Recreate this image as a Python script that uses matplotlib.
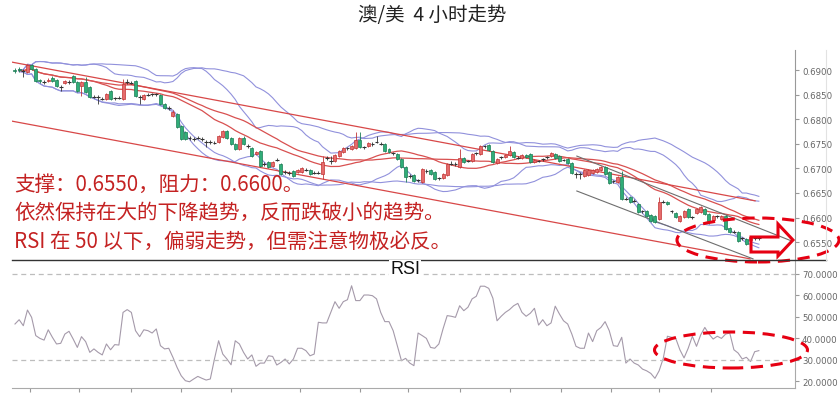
import matplotlib
matplotlib.use("Agg")
import matplotlib.pyplot as plt
import numpy as np
import pandas as pd
from matplotlib.patches import Ellipse, Polygon
from matplotlib.lines import Line2D

# --- données : bougies 4h AUD/USD ---
open_ = [
    0.6900, 0.6902, 0.6898, 0.6896, 0.6910, 0.6902, 0.6880, 0.6876, 0.6878, 0.6884,
    0.6880, 0.6867, 0.6874, 0.6876, 0.6888, 0.6876, 0.6867, 0.6876, 0.6865, 0.6847,
    0.6845, 0.6843, 0.6841, 0.6857, 0.6843, 0.6845, 0.6841, 0.6876, 0.6874, 0.6878,
    0.6845, 0.6841, 0.6851, 0.6851, 0.6850, 0.6849, 0.6831, 0.6823, 0.6806, 0.6811,
    0.6786, 0.6774, 0.6762, 0.6760, 0.6762, 0.6760, 0.6754, 0.6754, 0.6752, 0.6754,
    0.6764, 0.6776, 0.6762, 0.6750, 0.6739, 0.6762, 0.6745, 0.6741, 0.6729, 0.6735,
    0.6709, 0.6713, 0.6705, 0.6719, 0.6709, 0.6693, 0.6691, 0.6695, 0.6693, 0.6693,
    0.6697, 0.6697, 0.6691, 0.6691, 0.6689, 0.6721, 0.6717, 0.6715, 0.6725, 0.6733,
    0.6741, 0.6739, 0.6741, 0.6758, 0.6743, 0.6745, 0.6750, 0.6754, 0.6750, 0.6750,
    0.6739, 0.6731, 0.6729, 0.6719, 0.6703, 0.6685, 0.6687, 0.6676, 0.6672, 0.6695,
    0.6697, 0.6693, 0.6680, 0.6680, 0.6687, 0.6709, 0.6709, 0.6703, 0.6721, 0.6715,
    0.6715, 0.6731, 0.6729, 0.6745, 0.6748, 0.6735, 0.6711, 0.6723, 0.6723, 0.6727,
    0.6733, 0.6723, 0.6721, 0.6727, 0.6729, 0.6713, 0.6715, 0.6719, 0.6723, 0.6725,
    0.6729, 0.6725, 0.6717, 0.6719, 0.6711, 0.6689, 0.6689, 0.6685, 0.6687, 0.6691,
    0.6693, 0.6697, 0.6703, 0.6693, 0.6674, 0.6672, 0.6682, 0.6638, 0.6642, 0.6634,
    0.6628, 0.6613, 0.6613, 0.6605, 0.6603, 0.6597, 0.6632, 0.6632, 0.6613, 0.6609,
    0.6593, 0.6601, 0.6617, 0.6601, 0.6609, 0.6611, 0.6617, 0.6607, 0.6595, 0.6603,
    0.6597, 0.6603, 0.6579, 0.6571, 0.6571, 0.6558, 0.6556, 0.6554, 0.6558, 0.6558,
]
close = [
    0.6898, 0.6900, 0.6897, 0.6910, 0.6902, 0.6878, 0.6878, 0.6875, 0.6880, 0.6878,
    0.6867, 0.6866, 0.6878, 0.6876, 0.6876, 0.6857, 0.6876, 0.6855, 0.6845, 0.6846,
    0.6845, 0.6842, 0.6851, 0.6841, 0.6843, 0.6844, 0.6872, 0.6875, 0.6874, 0.6847,
    0.6845, 0.6849, 0.6850, 0.6851, 0.6851, 0.6831, 0.6823, 0.6822, 0.6815, 0.6784,
    0.6760, 0.6760, 0.6761, 0.6759, 0.6762, 0.6759, 0.6754, 0.6753, 0.6752, 0.6766,
    0.6776, 0.6762, 0.6750, 0.6739, 0.6762, 0.6750, 0.6745, 0.6725, 0.6733, 0.6705,
    0.6708, 0.6703, 0.6713, 0.6718, 0.6689, 0.6692, 0.6690, 0.6685, 0.6697, 0.6701,
    0.6697, 0.6689, 0.6690, 0.6691, 0.6713, 0.6721, 0.6716, 0.6727, 0.6735, 0.6741,
    0.6741, 0.6745, 0.6758, 0.6743, 0.6743, 0.6752, 0.6749, 0.6754, 0.6750, 0.6735,
    0.6733, 0.6731, 0.6719, 0.6703, 0.6682, 0.6684, 0.6674, 0.6676, 0.6699, 0.6694,
    0.6689, 0.6678, 0.6680, 0.6689, 0.6709, 0.6709, 0.6708, 0.6721, 0.6713, 0.6715,
    0.6729, 0.6731, 0.6745, 0.6745, 0.6737, 0.6713, 0.6719, 0.6723, 0.6727, 0.6735,
    0.6723, 0.6722, 0.6727, 0.6723, 0.6713, 0.6717, 0.6715, 0.6719, 0.6723, 0.6731,
    0.6721, 0.6715, 0.6717, 0.6711, 0.6691, 0.6689, 0.6688, 0.6697, 0.6697, 0.6697,
    0.6699, 0.6703, 0.6689, 0.6670, 0.6674, 0.6682, 0.6638, 0.6638, 0.6632, 0.6634,
    0.6611, 0.6613, 0.6603, 0.6593, 0.6591, 0.6632, 0.6632, 0.6628, 0.6613, 0.6601,
    0.6603, 0.6613, 0.6601, 0.6601, 0.6617, 0.6621, 0.6607, 0.6593, 0.6603, 0.6603,
    0.6603, 0.6577, 0.6571, 0.6571, 0.6552, 0.6558, 0.6546, 0.6561, 0.6558, 0.6559,
]
high = [
    0.6904, 0.6906, 0.6902, 0.6912, 0.6912, 0.6904, 0.6882, 0.6880, 0.6884, 0.6888,
    0.6882, 0.6870, 0.6880, 0.6880, 0.6889, 0.6878, 0.6878, 0.6886, 0.6867, 0.6850,
    0.6849, 0.6846, 0.6853, 0.6859, 0.6846, 0.6848, 0.6882, 0.6882, 0.6877, 0.6880,
    0.6849, 0.6851, 0.6854, 0.6854, 0.6853, 0.6851, 0.6833, 0.6826, 0.6819, 0.6813,
    0.6788, 0.6776, 0.6765, 0.6763, 0.6765, 0.6763, 0.6758, 0.6757, 0.6755, 0.6768,
    0.6778, 0.6778, 0.6764, 0.6752, 0.6764, 0.6766, 0.6749, 0.6743, 0.6735, 0.6737,
    0.6712, 0.6715, 0.6715, 0.6722, 0.6711, 0.6696, 0.6694, 0.6697, 0.6699, 0.6703,
    0.6700, 0.6699, 0.6694, 0.6694, 0.6725, 0.6725, 0.6725, 0.6729, 0.6737, 0.6743,
    0.6744, 0.6747, 0.6774, 0.6774, 0.6746, 0.6754, 0.6753, 0.6766, 0.6753, 0.6752,
    0.6741, 0.6734, 0.6731, 0.6721, 0.6705, 0.6688, 0.6689, 0.6679, 0.6701, 0.6698,
    0.6699, 0.6695, 0.6683, 0.6691, 0.6711, 0.6715, 0.6712, 0.6739, 0.6723, 0.6718,
    0.6731, 0.6734, 0.6747, 0.6748, 0.6750, 0.6737, 0.6721, 0.6726, 0.6729, 0.6745,
    0.6735, 0.6726, 0.6729, 0.6729, 0.6731, 0.6719, 0.6718, 0.6722, 0.6726, 0.6733,
    0.6731, 0.6727, 0.6720, 0.6721, 0.6713, 0.6692, 0.6692, 0.6699, 0.6699, 0.6699,
    0.6701, 0.6705, 0.6705, 0.6695, 0.6677, 0.6684, 0.6695, 0.6641, 0.6644, 0.6637,
    0.6630, 0.6616, 0.6615, 0.6607, 0.6605, 0.6642, 0.6635, 0.6634, 0.6616, 0.6611,
    0.6605, 0.6615, 0.6619, 0.6604, 0.6619, 0.6623, 0.6619, 0.6609, 0.6605, 0.6606,
    0.6605, 0.6605, 0.6581, 0.6574, 0.6573, 0.6561, 0.6558, 0.6563, 0.6561, 0.6562,
]
low = [
    0.6894, 0.6896, 0.6886, 0.6894, 0.6900, 0.6876, 0.6874, 0.6872, 0.6876, 0.6876,
    0.6865, 0.6857, 0.6872, 0.6872, 0.6874, 0.6855, 0.6847, 0.6853, 0.6843, 0.6843,
    0.6831, 0.6839, 0.6839, 0.6839, 0.6840, 0.6842, 0.6839, 0.6872, 0.6871, 0.6845,
    0.6831, 0.6839, 0.6847, 0.6848, 0.6847, 0.6829, 0.6821, 0.6819, 0.6804, 0.6782,
    0.6758, 0.6758, 0.6758, 0.6756, 0.6759, 0.6756, 0.6743, 0.6750, 0.6749, 0.6752,
    0.6762, 0.6760, 0.6748, 0.6737, 0.6737, 0.6748, 0.6742, 0.6723, 0.6727, 0.6703,
    0.6705, 0.6701, 0.6703, 0.6715, 0.6687, 0.6689, 0.6687, 0.6683, 0.6691, 0.6691,
    0.6694, 0.6687, 0.6688, 0.6688, 0.6678, 0.6718, 0.6709, 0.6713, 0.6723, 0.6731,
    0.6738, 0.6737, 0.6739, 0.6741, 0.6740, 0.6743, 0.6746, 0.6751, 0.6747, 0.6733,
    0.6731, 0.6728, 0.6717, 0.6701, 0.6672, 0.6681, 0.6672, 0.6673, 0.6670, 0.6691,
    0.6687, 0.6676, 0.6677, 0.6678, 0.6685, 0.6706, 0.6705, 0.6701, 0.6711, 0.6712,
    0.6713, 0.6728, 0.6727, 0.6742, 0.6735, 0.6711, 0.6709, 0.6720, 0.6721, 0.6725,
    0.6721, 0.6719, 0.6719, 0.6721, 0.6711, 0.6711, 0.6712, 0.6716, 0.6720, 0.6723,
    0.6719, 0.6713, 0.6714, 0.6709, 0.6689, 0.6680, 0.6678, 0.6683, 0.6685, 0.6689,
    0.6691, 0.6695, 0.6687, 0.6668, 0.6671, 0.6670, 0.6636, 0.6635, 0.6630, 0.6631,
    0.6609, 0.6610, 0.6601, 0.6591, 0.6589, 0.6595, 0.6629, 0.6626, 0.6610, 0.6599,
    0.6591, 0.6599, 0.6599, 0.6598, 0.6607, 0.6609, 0.6605, 0.6587, 0.6593, 0.6600,
    0.6595, 0.6575, 0.6569, 0.6568, 0.6550, 0.6555, 0.6544, 0.6552, 0.6555, 0.6555,
]
rsi = [
    46.7, 48.7, 45.9, 53.2, 49.8, 41.3, 40.0, 39.2, 44.0, 40.5,
    37.4, 37.7, 42.0, 43.3, 39.7, 35.8, 40.8, 38.5, 33.5, 35.1,
    33.5, 32.3, 37.4, 34.7, 37.1, 36.9, 52.1, 53.4, 52.1, 43.6,
    40.8, 44.0, 43.6, 42.5, 44.4, 36.6, 35.1, 35.4, 31.2, 26.5,
    22.6, 20.3, 19.8, 21.1, 22.3, 21.4, 20.6, 21.1, 30.4,
    38.9, 32.7, 30.4, 27.7, 38.9, 37.4, 33.5, 30.4, 32.3, 27.0,
    28.5, 28.5, 31.9, 31.6, 27.6, 28.8, 30.4, 28.1, 30.4, 35.4,
    35.4, 34.3, 31.9, 32.7, 47.5, 47.2, 47.2, 52.1, 57.1, 54.0,
    57.1, 58.0, 64.5, 57.6, 57.6, 60.2, 60.2, 59.9, 58.4, 52.1,
    47.8, 47.8, 43.6, 36.6, 29.6, 30.7, 28.5, 27.3,
    42.5, 41.3, 40.0, 35.8, 35.4, 37.4, 44.4, 50.6, 50.3, 49.8,
    55.2, 52.9, 54.5, 58.4, 59.6, 64.3, 64.3, 63.3, 58.7, 48.2,
    50.3, 52.1, 53.4, 55.2, 56.3, 52.1, 50.3, 51.7, 54.0, 46.2,
    48.7, 45.9, 47.2, 55.0, 51.4, 48.2, 46.7, 42.0, 36.3, 35.4,
    35.4, 42.5, 38.5, 43.6, 45.1, 47.8, 43.6, 36.6, 36.3, 40.5,
    28.5, 30.4, 28.5, 27.6, 25.7, 24.9, 23.7, 21.4, 24.9, 30.7,
    41.0, 40.5, 40.0, 34.7, 30.9, 35.4, 41.0, 36.3, 41.6, 45.1,
    42.0, 39.7, 41.0, 40.0, 42.0, 42.5, 34.7, 33.2, 30.4, 31.2,
    29.2, 33.8, 34.3,
]

price_ticks = [0.6550, 0.6600, 0.6650, 0.6700, 0.6750, 0.6800, 0.6850, 0.6900]
rsi_ticks = [20, 30, 40, 50, 60, 70]
day_ticks = [3.5, 15.5, 28, 40, 52, 68.5, 83, 94.5, 107, 119, 131.5, 143.5, 155, 167.5]
bb_periods = [20, 30]

# lignes de tendance (indice bougie, prix)
channel_top = ([-0.7, 178.1], [0.6916, 0.6634])
channel_bottom = ([-0.7, 176.9], [0.6796, 0.6516])
wedge_top = ([135.2, 187.0], [0.6725, 0.6552])
wedge_bottom = ([135.2, 177.6], [0.6654, 0.6516])

title = "澳/美  4 小时走势"
notes = [
    "支撑：0.6550，阻力：0.6600。",
    "依然保持在大的下降趋势，反而跌破小的趋势。",
    "RSI 在 50 以下，偏弱走势，但需注意物极必反。",
]

W, H = 840, 402
def fx(px):
    return px / W
def fy(py):
    return 1 - py / H

fig = plt.figure(figsize=(W / 100, H / 100), dpi=100)
ax = fig.add_axes([fx(12), fy(261), fx(795) - fx(12), fy(51) - fy(261)])
ax2 = fig.add_axes([fx(12), fy(389), fx(795) - fx(12), fy(261) - fy(389)], sharex=ax)

o = np.array(open_)
c = np.array(close)
hi = np.array(high)
lo = np.array(low)
idx = np.arange(len(c))

up = (c - o) >= 0.00015
down = (o - c) >= 0.00015
doji = ~(up | down)

RED, RED_E = "#e56b6b", "#c23535"
GRN, GRN_E = "#30ad78", "#1c7d55"

# --- Bollinger (2 écarts-types) ---
s = pd.Series(c)
for n in bb_periods:
    mid = s.rolling(n, min_periods=2).mean()
    sd = s.rolling(n, min_periods=2).std(ddof=0)
    ax.plot(idx, mid + 2 * sd, color="#9191dc", lw=0.8, zorder=1)
    ax.plot(idx, mid - 2 * sd, color="#9191dc", lw=0.8, zorder=1)
    ax.plot(idx, mid, color="#d85050", lw=0.9, zorder=1)

# canaux
for xs, ys in (channel_top, channel_bottom):
    ax.plot(xs, ys, color="#d84848", lw=0.9, zorder=1)
for xs, ys in (wedge_top, wedge_bottom):
    ax.plot(xs, ys, color="#6e6e6e", lw=0.8, zorder=1)

# --- bougies ---
wick_col = np.where(up, RED_E, np.where(down, GRN_E, "#333333"))
ax.vlines(idx, lo, hi, colors=wick_col, lw=0.6, zorder=2)
ax.bar(idx[up], (c - o)[up], bottom=o[up], width=0.72, color=RED,
       edgecolor=RED_E, lw=0.5, zorder=3)
ax.bar(idx[down], (o - c)[down], bottom=c[down], width=0.72, color=GRN,
       edgecolor=GRN_E, lw=0.5, zorder=3)
ax.hlines(c[doji], idx[doji] - 0.45, idx[doji] + 0.45, color="#333333", lw=0.8, zorder=3)

ax.set_xlim(-0.72, 187.7)
ax.set_ylim(0.65137, 0.69407)
ax.yaxis.tick_right()
ax.set_yticks(price_ticks)
ax.set_yticklabels([f"{p:.4f}" for p in price_ticks])
ax.tick_params(axis="y", length=3, color="#999999", labelsize=6.2,
               labelcolor="#666666", pad=2)
ax.tick_params(axis="x", bottom=False, labelbottom=False)
for sp in ("left", "top", "bottom"):
    ax.spines[sp].set_visible(False)
ax.spines["right"].set_color("#999999")
ax.spines["right"].set_linewidth(0.8)
ax.patch.set_alpha(0)

# --- RSI ---
ax2.plot(idx, rsi, color="#a59aaa", lw=0.8)
for lvl in (70, 30):
    ax2.axhline(lvl, color="#bdbdbd", lw=0.9, ls=(0, (4, 3)))
ax2.set_ylim(16.9, 76.5)
ax2.yaxis.tick_right()
ax2.set_yticks(rsi_ticks)
ax2.set_yticklabels([f"{v:.4f}" for v in rsi_ticks])
ax2.tick_params(axis="y", length=3, color="#999999", labelsize=6.2,
                labelcolor="#666666", pad=2)
ax2.set_xticks(day_ticks)
ax2.tick_params(axis="x", length=3, color="#999999", labelbottom=False)
for sp in ("left", "top"):
    ax2.spines[sp].set_visible(False)
for sp in ("right", "bottom"):
    ax2.spines[sp].set_color("#aaaaaa")
    ax2.spines[sp].set_linewidth(0.8)
ax2.patch.set_alpha(0)

# séparateur et bord droit
fig.add_artist(Line2D([fx(12), fx(826)], [fy(261), fy(261)], color="#333333", lw=1.0))
fig.add_artist(Line2D([fx(826), fx(826)], [fy(51), fy(261)], color="#e2e2e2", lw=0.8))

fig.text(fx(405), fy(270), "RSI", ha="center", va="center", fontsize=13,
         family="Liberation Sans", color="#111111",
         bbox=dict(fc="white", ec="none", pad=0.6))

fig.text(fx(432), fy(16), title, ha="center", va="center", fontsize=14,
         family=["Noto Sans CJK SC", "DejaVu Sans"], color="#222222")

for t, yy in zip(notes, (185, 213, 242)):
    fig.text(fx(14), fy(yy), t, ha="left", va="center", fontsize=14.8,
             family=["Noto Sans CJK SC", "DejaVu Sans"], color="#c42222")

# --- annotations rouges ---
ANN = "#e60012"
fig.add_artist(Ellipse((fx(758), fy(241)), 162 / W, 44 / H, transform=fig.transFigure,
                       fill=False, ec=ANN, lw=2.2, ls=(0, (4, 2.5))))
fig.add_artist(Ellipse((fx(731), fy(351)), 153 / W, 36 / H, transform=fig.transFigure,
                       fill=False, ec=ANN, lw=2.2, ls=(0, (4, 2.5))))
arrow_px = [(751, 238), (778, 238), (778, 225), (793, 241), (778, 257), (778, 253), (751, 253)]
fig.add_artist(Polygon([(fx(a), fy(b)) for a, b in arrow_px], closed=True,
                       transform=fig.transFigure, fill=False, ec=ANN, lw=2.2))

fig.savefig("out.png", dpi=100)
